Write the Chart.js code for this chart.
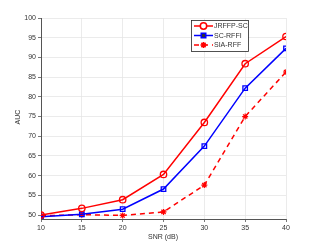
<!DOCTYPE html>
<html><head><meta charset="utf-8">
<script src="https://cdn.jsdelivr.net/npm/chart.js@4/dist/chart.umd.min.js"></script>
<style>html,body{margin:0;padding:0;background:#fff}#c{display:block}</style>
</head><body>
<canvas id="c" width="316" height="245"></canvas>
<script>
const snr = [10, 15, 20, 25, 30, 35, 40];
const jrffp = [50.0, 51.7, 53.9, 60.3, 73.5, 88.4, 95.3];
const scrffi = [49.6, 50.2, 51.5, 56.6, 67.5, 82.2, 92.3];
const siarff = [49.8, 50.1, 49.9, 50.8, 57.6, 75.0, 86.3];
const yTicks = [50, 55, 60, 65, 70, 75, 80, 85, 90, 95, 100];
const xTicks = [10, 15, 20, 25, 30, 35, 40];
const names = ['JRFFP-SC', 'SC-RFFI', 'SIA-RFF'];

const FONT = '"Liberation Sans", Arial, sans-serif';
const TXT = '#333333';

const mk = (arr) => arr.map((v, i) => ({x: snr[i], y: v}));

const legendPlugin = {
  id: 'customLegend',
  afterDraw(chart) {
    const ctx = chart.ctx;
    const x0 = 191, y0 = 20, w = 57, h = 31;
    ctx.save();
    ctx.fillStyle = '#fff';
    ctx.fillRect(x0, y0, w, h);
    ctx.strokeStyle = '#262626';
    ctx.lineWidth = 0.8;
    ctx.strokeRect(x0 + 0.5, y0 + 0.5, w, h);
    const rows = [26, 35.5, 45];
    chart.data.datasets.forEach((ds, i) => {
      const y = rows[i];
      ctx.strokeStyle = ds.borderColor;
      ctx.lineWidth = ds.borderWidth;
      ctx.setLineDash(ds.borderDash || []);
      ctx.beginPath(); ctx.moveTo(x0 + 3, y); ctx.lineTo(x0 + 22, y); ctx.stroke();
      ctx.setLineDash([]);
      ctx.strokeStyle = ds.borderColor;
      Chart.helpers.drawPoint(ctx, {pointStyle: ds.pointStyle, radius: ds.pointRadius, borderWidth: 1.3}, x0 + 12.5, y);
      ctx.fillStyle = TXT;
      ctx.font = '7px ' + FONT;
      ctx.textBaseline = 'middle';
      ctx.textAlign = 'left';
      ctx.fillText(ds.label, x0 + 23, y + 0.5);
    });
    ctx.restore();
  }
};

const titlePlugin = {
  id: 'axisTitles',
  afterDraw(chart) {
    const ctx = chart.ctx;
    ctx.save();
    ctx.fillStyle = TXT;
    ctx.font = '7px ' + FONT;
    ctx.textAlign = 'center';
    ctx.textBaseline = 'middle';
    ctx.fillText('SNR (dB)', 163, 237);
    ctx.translate(18, 117);
    ctx.rotate(-Math.PI / 2);
    ctx.fillText('AUC', 0, 0);
    ctx.restore();
  }
};

new Chart(document.getElementById('c'), {
  type: 'line',
  data: {
    datasets: [
      {label: names[0], data: mk(jrffp), borderColor: '#ff0000', backgroundColor: 'rgba(255,255,255,0)', pointBackgroundColor: 'rgba(255,255,255,0)', borderWidth: 1.5, pointStyle: 'circle', pointRadius: 3.2, pointBorderWidth: 1.3, pointBorderColor: '#ff0000', order: 1},
      {label: names[1], data: mk(scrffi), borderColor: '#0000ff', backgroundColor: 'rgba(255,255,255,0)', pointBackgroundColor: 'rgba(255,255,255,0)', borderWidth: 1.5, pointStyle: 'rect', pointRadius: 3.2, pointBorderWidth: 1.3, pointBorderColor: '#0000ff', order: 2},
      {label: names[2], data: mk(siarff), borderColor: '#ff0000', backgroundColor: 'rgba(255,255,255,0)', borderWidth: 1.5, borderDash: [5, 4], pointStyle: 'star', pointRadius: 3, pointBorderWidth: 1.2, pointBorderColor: '#ff0000', order: 3}
    ]
  },
  options: {
    responsive: false,
    animation: false,
    devicePixelRatio: 1,
    layout: {padding: {top: 18, right: 30, left: 0, bottom: 0}},
    plugins: {legend: {display: false}, tooltip: {enabled: false}},
    elements: {line: {tension: 0}},
    scales: {
      x: {
        type: 'linear', min: 10, max: 40,
        afterBuildTicks: (s) => { s.ticks = xTicks.map(v => ({value: v})); },
        afterFit: (s) => { s.height = 26; },
        grid: {color: '#e6e6e6', lineWidth: 0.8, drawTicks: true, tickLength: 3, tickColor: '#555'},
        border: {color: '#555', width: 1},
        ticks: {color: TXT, font: {family: FONT, size: 7}, padding: 2, maxRotation: 0}
      },
      y: {
        type: 'linear', min: 49, max: 100,
        afterBuildTicks: (s) => { s.ticks = yTicks.map(v => ({value: v})); },
        afterFit: (s) => { s.width = 41; },
        grid: {color: '#e6e6e6', lineWidth: 0.8, drawTicks: true, tickLength: 3, tickColor: '#555'},
        border: {color: '#555', width: 1},
        ticks: {color: TXT, font: {family: FONT, size: 7}, padding: 2}
      }
    }
  },
  plugins: [legendPlugin, titlePlugin]
});
</script>
</body></html>
